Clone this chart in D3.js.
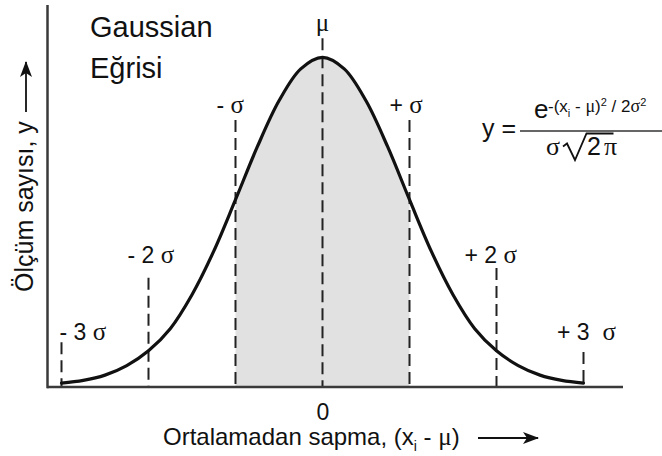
<!DOCTYPE html>
<html>
<head>
<meta charset="utf-8">
<script src="https://cdn.jsdelivr.net/npm/d3@7"></script>
<style>
  body { margin: 0; background: #fff; }
  svg { display: block; }
  text { white-space: pre; }
</style>
</head>
<body>
<svg id="chart" width="662" height="456"></svg>
<script>
// Deviation from the mean, in units of sigma
const deviation = [-3, -2.75, -2.5, -2.25, -2, -1.75, -1.5, -1.25, -1, -0.75, -0.5, -0.25, 0,
                   0.25, 0.5, 0.75, 1, 1.25, 1.5, 1.75, 2, 2.25, 2.5, 2.75, 3];
// Relative number of measurements (peak = 1)
const frequency = [0.012, 0.020, 0.036, 0.065, 0.110, 0.177, 0.280, 0.412, 0.568, 0.728, 0.868, 0.965, 1.000,
                   0.965, 0.868, 0.728, 0.568, 0.412, 0.280, 0.177, 0.110, 0.065, 0.036, 0.020, 0.012];

// Marker lines at multiples of sigma
const markerPositions = [-3, -2, -1, 0, 1, 2, 3];
const markerHeights   = [0.136, 0.331, 0.81, 1.058, 0.81, 0.361, 0.106];
const markerSigns     = ["- ", "- ", "- ", "", "+ ", "+ ", "+ "];
const markerMultiples = ["3 ", "2 ", "", "", "", "2 ", "3  "];
const markerSymbols   = ["σ", "σ", "σ", "μ", "σ", "σ", "σ"];

// Shaded band: mean ± one sigma
const shadedRange = [-1, 1];
const xTickValues = [0];

const titleLines = ["Gaussian", "Eğrisi"];
const yAxisTitle = "Ölçüm sayısı, y";

const sans = "'Liberation Sans', Arial, Helvetica, sans-serif";
const serif = "'Liberation Serif', 'Times New Roman', serif";

const svg = d3.select("#chart");

const x = d3.scaleLinear().domain([-3, 3]).range([61.5, 583.5]);
const y = d3.scaleLinear().domain([0, 1]).range([387, 57.3]);

const points = deviation.map((d, i) => ({ t: d, v: frequency[i] }));

// shaded area between -sigma and +sigma
svg.append("clipPath").attr("id", "band")
  .append("rect")
  .attr("x", x(shadedRange[0])).attr("y", 0)
  .attr("width", x(shadedRange[1]) - x(shadedRange[0])).attr("height", y(0));

const area = d3.area()
  .x(d => x(d.t)).y0(y(0)).y1(d => y(d.v))
  .curve(d3.curveCatmullRom);

svg.append("path")
  .datum(points)
  .attr("clip-path", "url(#band)")
  .attr("fill", "#e1e1e1")
  .attr("d", area);

// dashed marker lines
const markerLabelLayout = [
  { dx: -2, baseline: 340 },
  { dx: -21, baseline: 263 },
  { dx: -19, baseline: 113 },
  { dx: 0, baseline: 31 },
  { dx: -20, baseline: 113 },
  { dx: -32, baseline: 263 },
  { dx: -26.5, baseline: 340 }
];

svg.append("g")
  .selectAll("line")
  .data(markerPositions)
  .join("line")
  .attr("x1", d => x(d)).attr("x2", d => x(d))
  .attr("y1", (d, i) => y(markerHeights[i]))
  .attr("y2", y(0))
  .attr("stroke", "#222")
  .attr("stroke-width", 2)
  .attr("stroke-dasharray", "12,6");

const labels = svg.append("g")
  .selectAll("text")
  .data(markerPositions)
  .join("text")
  .attr("x", (d, i) => x(d) + markerLabelLayout[i].dx)
  .attr("y", (d, i) => markerLabelLayout[i].baseline)
  .attr("text-anchor", d => d === 0 ? "middle" : "start")
  .attr("font-family", sans)
  .attr("font-size", 23)
  .attr("fill", "#111");

labels.append("tspan").text((d, i) => markerSigns[i] + markerMultiples[i]);
labels.append("tspan")
  .attr("font-family", serif)
  .attr("font-size", 25)
  .text((d, i) => markerSymbols[i]);

// Gaussian curve
const line = d3.line()
  .x(d => x(d.t)).y(d => y(d.v))
  .curve(d3.curveCatmullRom);

svg.append("path")
  .datum(points)
  .attr("fill", "none")
  .attr("stroke", "#111")
  .attr("stroke-width", 3.2)
  .attr("stroke-linecap", "round")
  .attr("d", line);

// axes
const xAxis = d3.axisBottom(x).tickValues(xTickValues).tickSize(0).tickPadding(17)
  .tickFormat(d3.format("d"));
const gx = svg.append("g").attr("transform", `translate(0,${y(0)})`).call(xAxis);
gx.select(".domain").remove();
gx.selectAll("text").attr("font-family", sans).attr("font-size", 23).attr("fill", "#111");

svg.append("line")
  .attr("x1", 47).attr("x2", 623)
  .attr("y1", y(0)).attr("y2", y(0))
  .attr("stroke", "#3a3a3a").attr("stroke-width", 2.5);
svg.append("line")
  .attr("x1", 47.5).attr("x2", 47.5)
  .attr("y1", 5).attr("y2", y(0) + 1.2)
  .attr("stroke", "#3a3a3a").attr("stroke-width", 2.5);

// arrowhead marker
svg.append("defs").append("marker")
  .attr("id", "arrow")
  .attr("viewBox", "0 0 16 12")
  .attr("refX", 15).attr("refY", 6)
  .attr("markerWidth", 16).attr("markerHeight", 12)
  .attr("markerUnits", "userSpaceOnUse")
  .attr("orient", "auto")
  .append("path").attr("d", "M0,0 L16,6 L0,12 L4,6 Z").attr("fill", "#111");

// x-axis title
const xt = svg.append("text")
  .attr("x", 163).attr("y", 445)
  .attr("font-family", sans).attr("font-size", 24).attr("fill", "#111");
xt.append("tspan").text("Ortalamadan sapma, (x");
xt.append("tspan").attr("font-size", 14).attr("dy", 6).text("i");
xt.append("tspan").attr("dy", -6).text(" - ");
xt.append("tspan").attr("font-family", serif).attr("font-size", 25).text("μ");
xt.append("tspan").text(")");

svg.append("line")
  .attr("x1", 478).attr("x2", 538).attr("y1", 438).attr("y2", 438)
  .attr("stroke", "#111").attr("stroke-width", 1.8)
  .attr("marker-end", "url(#arrow)");

// y-axis title
svg.append("text")
  .attr("transform", "translate(33,292) rotate(-90)")
  .attr("font-family", sans).attr("font-size", 25).attr("fill", "#111")
  .text(yAxisTitle);

svg.append("line")
  .attr("x1", 26).attr("x2", 26).attr("y1", 112).attr("y2", 62)
  .attr("stroke", "#111").attr("stroke-width", 1.8)
  .attr("marker-end", "url(#arrow)");

// title
svg.append("g")
  .selectAll("text")
  .data(titleLines)
  .join("text")
  .attr("x", 90)
  .attr("y", (d, i) => 37 + i * 41)
  .attr("font-family", sans).attr("font-size", 29).attr("fill", "#111")
  .text(d => d);

// formula
const f = svg.append("g").attr("fill", "#111").attr("font-family", sans);
f.append("text").attr("x", 482).attr("y", 137).attr("font-size", 25).text("y =");
f.append("line")
  .attr("x1", 520).attr("x2", 662).attr("y1", 131).attr("y2", 131)
  .attr("stroke", "#333").attr("stroke-width", 1.3);

f.append("text").attr("x", 534).attr("y", 118).attr("font-size", 26).text("e");
const sup = f.append("text").attr("x", 548).attr("y", 112).attr("font-size", 17);
sup.append("tspan").text("-(x");
sup.append("tspan").attr("font-size", 11).attr("dy", 5).text("i");
sup.append("tspan").attr("dy", -5).text(" - ");
sup.append("tspan").attr("font-family", serif).attr("font-size", 18).text("μ");
sup.append("tspan").text(")");
sup.append("tspan").attr("font-size", 11).attr("dy", -6).text("2");
sup.append("tspan").attr("dy", 6).text(" / 2");
sup.append("tspan").attr("font-family", serif).attr("font-size", 18).text("σ");
sup.append("tspan").attr("font-size", 11).attr("dy", -6).text("2");

f.append("text").attr("x", 546).attr("y", 155).attr("font-size", 26)
  .attr("font-family", serif).text("σ");
f.append("path")
  .attr("d", "M563,146.5 L567,143.5 L575,160 L586.5,133.5 L613.5,133.5")
  .attr("fill", "none").attr("stroke", "#111").attr("stroke-width", 1.8);
f.append("text").attr("x", 587).attr("y", 155).attr("font-size", 25).text("2");
f.append("text").attr("x", 604).attr("y", 155).attr("font-size", 26)
  .attr("font-family", serif).text("π");
</script>
</body>
</html>
